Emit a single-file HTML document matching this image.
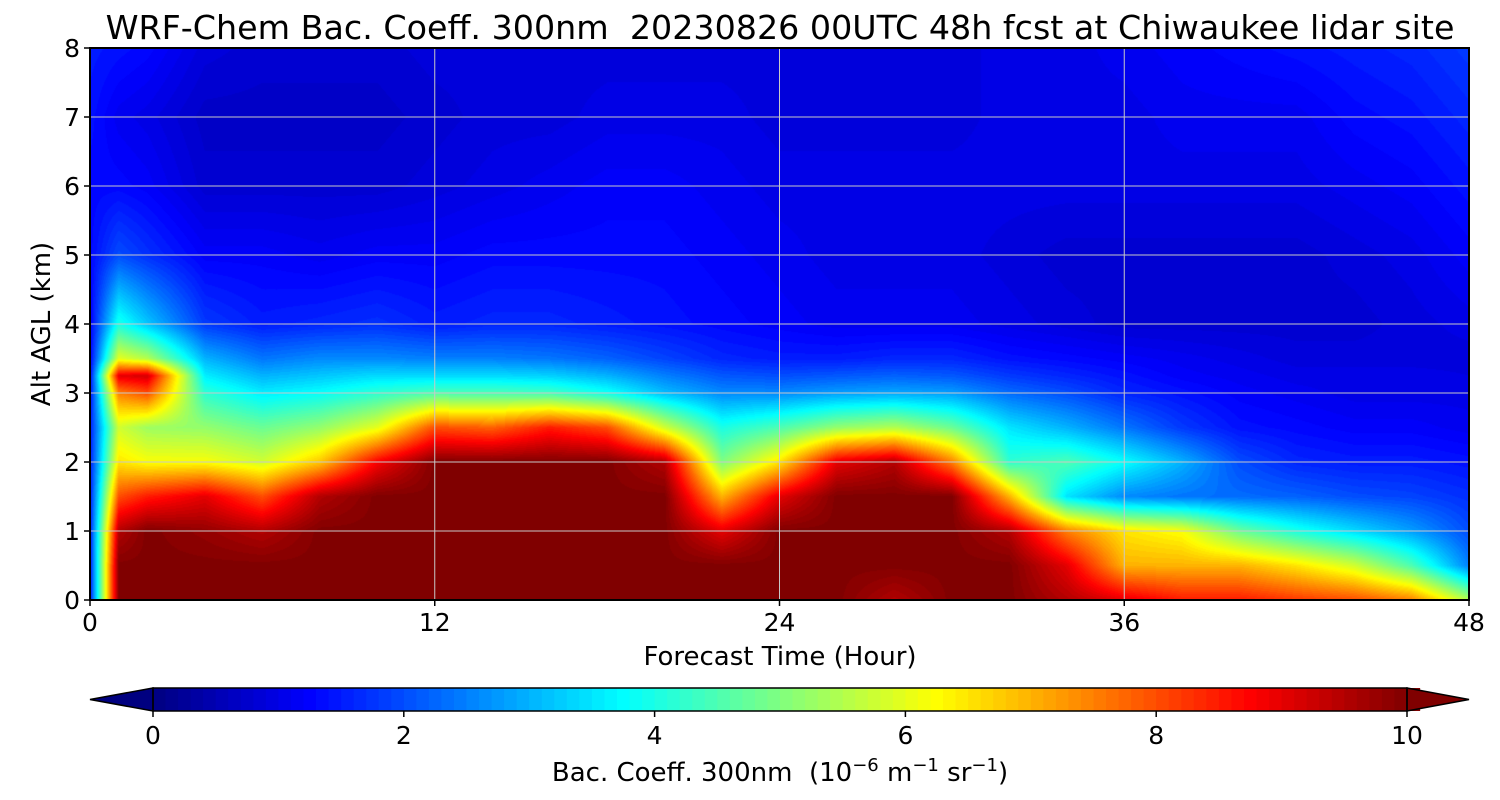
<!DOCTYPE html>
<html><head><meta charset="utf-8"><style>
body{margin:0;background:#fff;font-family:"DejaVu Sans","Liberation Sans",sans-serif;}
#wrap{position:relative;width:1500px;height:800px;overflow:hidden;}
canvas{position:absolute;left:90px;top:48px;}
svg{position:absolute;left:0;top:0;}
text{white-space:pre;}
</style></head><body><div id="wrap">
<canvas id="cv" width="1379" height="552"></canvas>
<svg id="sv" width="1500" height="800"></svg>
</div>
<script>
const times=[0,1,2,4,6,8,10,12,14,16,18,20,22,24,26,28,30,32,34,36,38,40,42,44,46,48];
const alts=[0,0.5,1,1.5,2,2.5,3,3.25,3.5,4,5,6,7,8];
const values=[
[1.5,1.5,1.5,1.5,1.5,1.5,1.4,1.3,1.2,1.2,1.3,1.3,1.4,1.5],
[10,10,9.5,8,6.5,5.8,7.5,9,6,4,2,1.3,1.1,1.4],
[10,10,10,8.5,6.2,5.3,8,9.2,5.5,3.2,1.7,1.2,1,1.3],
[10,10,9.8,9,6.2,5.2,4.2,3.6,3,1.8,1.2,0.8,0.7,0.9],
[10,10,9.5,8,5.8,4.8,3.6,3,2.4,1.5,1.2,0.8,0.7,0.8],
[10,10,10,9.5,6.8,5.2,3.8,3.2,2.6,1.6,1.1,0.8,0.7,0.8],
[10,10,10,10,8.8,6,4.2,3.4,2.6,1.7,1.2,0.8,0.7,0.8],
[10,10,10,10,10,8,4.5,3.4,2.5,1.5,1.2,0.9,0.8,0.9],
[10,10,10,10,10,7.8,4.5,3.4,2.5,1.6,1.3,1,0.9,0.9],
[10,10,10,10,10,8.5,4.4,3.3,2.4,1.6,1.3,1.1,0.9,0.9],
[10,10,10,10,10,8,3.9,3,2.2,1.5,1.3,1.2,1,0.9],
[10,10,10,10,9.5,5.8,3.1,2.5,1.9,1.4,1.3,1.2,1,0.9],
[10,10,9,7,5,4,2.6,2.1,1.6,1.3,1.2,1.1,1,0.9],
[10,10,10,9,6.5,4.5,2.6,2,1.5,1.2,1.1,1,0.9,0.9],
[10,10,10,10,9,5.2,2.8,2.1,1.5,1.1,1,1,0.9,0.9],
[9.5,10,10,10,9.5,5.5,2.9,2.2,1.6,1.1,1,1,0.9,0.9],
[10,10,10,10,7.5,4.8,2.8,2.1,1.6,1.1,1,1,0.9,0.9],
[10,10,9.5,7,4.2,3.5,2.3,1.8,1.4,1,0.9,1,1,1],
[9.5,9,7.5,3.5,4.5,3,2,1.6,1.3,0.9,0.8,1,1,1],
[9,7,6.5,2.6,3.8,2.4,1.6,1.4,1.2,0.8,0.8,1,1,1.1],
[8.5,7,6.2,2.4,3,1.8,1.4,1.2,1.1,0.8,0.8,1,1.1,1.2],
[8.5,7,4.8,2.3,2,1.4,1.2,1.1,1,0.8,0.8,1,1.1,1.3],
[8.2,6.5,4,2.2,1.6,1.3,1.1,1,0.9,0.8,0.8,1,1.1,1.4],
[8,5.8,3.4,2,1.5,1.2,1,1,0.9,0.8,0.9,1.1,1.3,1.5],
[7.5,4.5,2.8,1.9,1.5,1.2,1,1,0.9,0.9,1,1.2,1.4,1.6],
[5.5,2.5,2,1.7,1.4,1.1,1,0.95,0.9,1,1.2,1.4,1.6,1.8]];
const xTicks=[0,12,24,36,48];
const yTicks=[0,1,2,3,4,5,6,7,8];
const cbTicks=[0,2,4,6,8,10];
const X0=90,X1=1469,Y0=600,Y1=48;
const xs=t=>X0+(t-0)/48*(X1-X0);
const ys=a=>Y0-(a/8)*(Y0-Y1);
function jet(v){const x=Math.max(0,Math.min(1,v/10));const c=f=>Math.round(255*Math.max(0,Math.min(1,f)));
return [c(1.5-Math.abs(4*x-3)),c(1.5-Math.abs(4*x-2)),c(1.5-Math.abs(4*x-1))];}
function idx(arr,v){let i=0;while(i<arr.length-2&&v>arr[i+1])i++;const f=(v-arr[i])/(arr[i+1]-arr[i]);return [i,Math.max(0,Math.min(1,f))];}
const cv=document.getElementById('cv'),ctx=cv.getContext('2d');
const W=cv.width,H=cv.height,img=ctx.createImageData(W,H);
for(let px=0;px<W;px++){const t=(px+0.5)/W*48;const [i,fx]=idx(times,t);
for(let py=0;py<H;py++){const a=(H-py-0.5)/H*8;const [j,fy]=idx(alts,a);
const v=(values[i][j]*(1-fx)+values[i+1][j]*fx)*(1-fy)+(values[i][j+1]*(1-fx)+values[i+1][j+1]*fx)*fy;
const q=Math.round(v*10)/10;const c=jet(q);const k=(py*W+px)*4;img.data[k]=c[0];img.data[k+1]=c[1];img.data[k+2]=c[2];img.data[k+3]=255;}}
ctx.putImageData(img,0,0);
const sv=document.getElementById('sv');const NS='http://www.w3.org/2000/svg';
function mk(tag,at,txt){const e=document.createElementNS(NS,tag);for(const k in at)e.setAttribute(k,at[k]);if(txt!==undefined)e.textContent=txt;sv.appendChild(e);return e;}
let e;
xTicks.forEach(t=>{e=mk('line',{x1:xs(t),x2:xs(t),y1:Y1,y2:Y0,stroke:'#c8c8c8','stroke-width':1});

e=mk('line',{x1:xs(t),x2:xs(t),y1:Y0,y2:Y0+6,stroke:'#000','stroke-width':1.5});

e=mk('text',{x:xs(t),y:631,'font-size':25,'text-anchor':'middle'},t);
});
yTicks.forEach(a=>{e=mk('line',{x1:X0,x2:X1,y1:ys(a),y2:ys(a),stroke:'#c8c8c8','stroke-width':1});

e=mk('line',{x1:X0-6,x2:X0,y1:ys(a),y2:ys(a),stroke:'#000','stroke-width':1.5});

e=mk('text',{x:80,y:ys(a)+9,'font-size':25,'text-anchor':'end'},a);
});
e=mk('rect',{x:X0,y:Y1,width:X1-X0,height:Y0-Y1,fill:'none',stroke:'#000','stroke-width':2});

e=mk('text',{x:780,y:39,'font-size':33.3,'text-anchor':'middle'},'WRF-Chem Bac. Coeff. 300nm  20230826 00UTC 48h fcst at Chiwaukee lidar site');

e=mk('text',{x:780,y:665,'font-size':26,'text-anchor':'middle'},'Forecast Time (Hour)');

e=mk('text',{x:50,y:324,'font-size':26,'text-anchor':'middle',transform:'rotate(-90 50 324)'},'Alt AGL (km)');

const C0=153,C1=1407,CY=688,CH=23;const cx=v=>C0+v/10*(C1-C0);
for(let v=0;v<10;v+=0.1){e=mk('rect',{x:cx(v),y:CY,width:(C1-C0)/100+0.6,height:CH,fill:'rgb('+jet(v+0.05)+')'});
}
e=mk('polygon',{points:`${C0},${CY} 90,${CY+CH/2} ${C0},${CY+CH}`,fill:'rgb('+jet(-1)+')',stroke:'#000','stroke-width':1.5});

e=mk('polygon',{points:`${C1},${CY} 1469,${CY+CH/2} ${C1},${CY+CH}`,fill:'rgb('+jet(11)+')',stroke:'#000','stroke-width':1.5});

e=mk('rect',{x:C0,y:CY,width:C1-C0,height:CH,fill:'none',stroke:'#000','stroke-width':1.5});

cbTicks.forEach(v=>{e=mk('line',{x1:cx(v),x2:cx(v),y1:CY+CH,y2:CY+CH+6,stroke:'#000','stroke-width':1.5});

e=mk('text',{x:cx(v),y:744,'font-size':25,'text-anchor':'middle'},v);
});
e=mk('text',{x:780,y:781,'font-size':26,'text-anchor':'middle'});

e.innerHTML='Bac. Coeff. 300nm  (10<tspan dy="-10" font-size="18">−6</tspan><tspan dy="10"> m</tspan><tspan dy="-10" font-size="18">−1</tspan><tspan dy="10"> sr</tspan><tspan dy="-10" font-size="18">−1</tspan><tspan dy="10">)</tspan>';
</script></body></html>
